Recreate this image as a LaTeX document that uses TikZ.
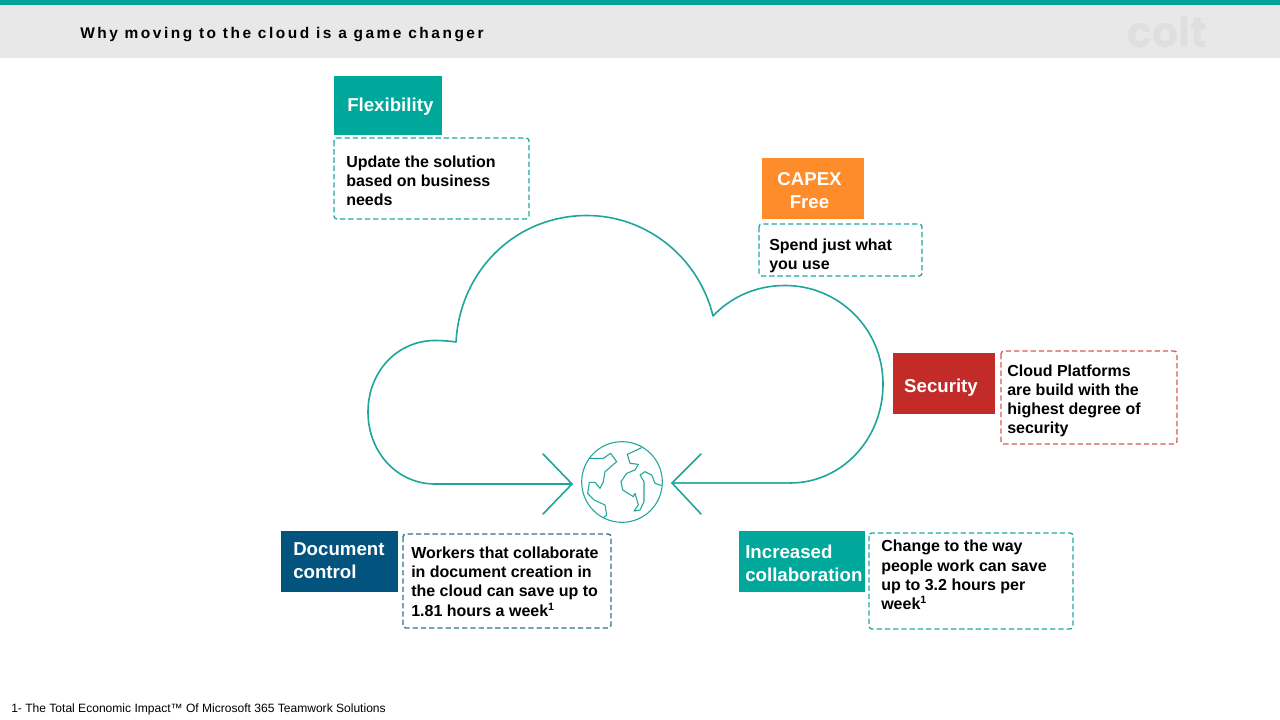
\documentclass[tikz,border=0pt]{standalone}
\usepackage{fontspec}
\setmainfont{Liberation Sans}
\newfontfamily\spacedfont[LetterSpace=16.2,Ligatures=NoCommon]{Liberation Sans}
\newfontfamily\logofont{Poppins}
\definecolor{coltteal}{HTML}{00A79B}
\definecolor{cloudteal}{HTML}{1FA69B}
\definecolor{colttop}{HTML}{00A396}
\definecolor{bandgrey}{HTML}{E8E8E8}
\definecolor{logogrey}{HTML}{DFE0DE}
\definecolor{capexorange}{HTML}{FF8C2B}
\definecolor{securityred}{HTML}{C32B28}
\definecolor{docblue}{HTML}{03537F}
\definecolor{dashteal}{HTML}{1FAA9F}
\definecolor{dashred}{HTML}{D45A5C}
\definecolor{dashblue}{HTML}{2F7390}
\tikzset{
  x=0.75pt,y=-0.75pt,
  tagtext/.style={text=white,font=\bfseries\fontsize{14}{17.2}\selectfont,align=left,inner sep=0pt},
  notebox/.style={draw=#1,line width=1pt,rounded corners=2.2pt,dash pattern=on 4pt off 2.2pt},
  notetext/.style={text=black,font=\bfseries\fontsize{12}{14.4}\selectfont,align=left,inner sep=0pt},
  cloudline/.style={draw=cloudteal,line width=1.2pt,line join=round,line cap=round},
  globeline/.style={draw=cloudteal,line width=0.8pt,line join=round},
}
\begin{document}
\begin{tikzpicture}
\useasboundingbox (0,0) rectangle (1280,720);
\fill[white] (0,0) rectangle (1280,720);

% header band
\fill[bandgrey] (0,5) rectangle (1280,58);
\fill[colttop] (0,0) rectangle (1280,5);
\node[anchor=west,inner sep=0pt,font=\spacedfont\bfseries\fontsize{11.6}{14}\selectfont] (title) at (80,34.5) {Why moving to the cloud is a game changer};
\node[inner sep=0pt,text=logogrey,font=\logofont\bfseries\fontsize{32}{32}\selectfont,xscale=0.96] (logo) at (1167,32) {colt};

% cloud outline, open at the bottom where the globe sits
\coordinate (leftTip) at (572,484);
\coordinate (rightTip) at (672,483);
\draw[cloudline] (leftTip) -- (435,484)
  .. controls (397,484) and (368,452) .. (368,412)
  .. controls (368,372) and (397,340.5) .. (435,340.5)
  .. controls (442,340.5) and (450,341) .. (456,342)
  .. controls (460,270) and (516,215.5) .. (587,215.5)
  .. controls (647,215.5) and (699,258) .. (713,316)
  .. controls (731,297) and (756,285.5) .. (785,285.5)
  .. controls (839,285.5) and (883,329) .. (883,384)
  .. controls (883,439) and (842,483) .. (790,483)
  -- (rightTip);
\draw[cloudteal!85!white,line width=1.5pt] (790,483) -- (rightTip);

% inward arrowheads either side of the globe
\draw[cloudline] (543,454) -- (leftTip) -- (543,514);
\draw[cloudline] (701,454) -- (rightTip) -- (701,514);

% globe
\node[circle,draw=cloudteal,line width=0.8pt,minimum size=60.5pt,inner sep=0pt] (globe) at (622,482) {};
\begin{scope}[shift={(520,420)},x=0.25pt,y=-0.25pt]
\draw[globeline] (208,115) -- (250,115) -- (272,100) -- (290,125) -- (255,155) -- (250,185) -- (240,205) -- (225,187) -- (208,187) -- (203,220) -- (222,240) -- (255,255) -- (260,285) -- (250,293);
\draw[globeline] (365,83) -- (322,103) -- (330,130) -- (355,133) -- (345,150) -- (320,160) -- (303,185) -- (308,210) -- (340,230) -- (345,220) -- (355,255) -- (342,273) -- (360,270) -- (372,245) -- (372,185) -- (360,165) -- (375,155) -- (395,165) -- (405,190) -- (425,197);
\end{scope}

% Flexibility
\fill[coltteal] (334,76) rectangle (441.5,135.5);
\node[tagtext,anchor=west] (flexTag) at (347,107) {Flexibility};
\draw[notebox=dashteal] (334,138) rectangle (529,219);
\node[notetext,anchor=west] (flexNote) at (346,181) {Update the solution\\based on business\\needs};

% CAPEX Free
\fill[capexorange] (762,158) rectangle (864,219);
\node[tagtext,align=center] (capexTag) at (809.5,190.5) {CAPEX\\Free};
\draw[notebox=dashteal] (759,224) rectangle (922,276);
\node[notetext,anchor=west] (capexNote) at (769,255.5) {Spend just what\\you use};

% Security
\fill[securityred] (893,353) rectangle (995,414);
\node[tagtext] (secTag) at (941,388) {Security};
\draw[notebox=dashred] (1001,351) rectangle (1177,444);
\node[notetext,anchor=west] (secNote) at (1007,401) {Cloud Platforms\\are build with the\\highest degree of\\security};

% Document control
\fill[docblue] (281,531) rectangle (397.5,592);
\node[tagtext,anchor=west] (docTag) at (293,561) {Document\\control};
\draw[notebox=dashblue] (403,534) rectangle (611,628);
\node[notetext,anchor=west] (docNote) at (411,581.5) {Workers that collaborate\\in document creation in\\the cloud can save up to\\1.81 hours a week\textsuperscript{1}};

% Increased collaboration
\fill[coltteal] (739,531) rectangle (864.5,592);
\node[tagtext,anchor=west] (collabTag) at (745,563) {Increased\\collaboration};
\draw[notebox=dashteal] (869,533) rectangle (1073,629);
\node[notetext,anchor=west] (collabNote) at (881,575) {Change to the way\\people work can save\\up to 3.2 hours per\\week\textsuperscript{1}};

% source line
\node[anchor=west,inner sep=0pt,font=\fontsize{9.04}{11}\selectfont] (source) at (11,709.5) {1- The Total Economic Impact™ Of Microsoft 365 Teamwork Solutions};
\end{tikzpicture}
\end{document}
